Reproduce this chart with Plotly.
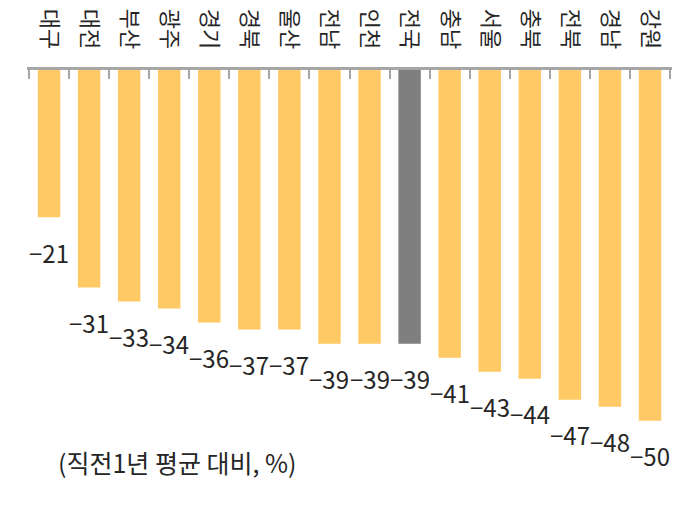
import plotly.graph_objects as go

# 지역별 변화율 (직전1년 평균 대비, %)
regions = ["대구", "대전", "부산", "광주", "경기", "경북", "울산", "전남",
           "인천", "전국", "충남", "서울", "충북", "전북", "경남", "강원"]
values = [-21, -31, -33, -34, -36, -37, -37, -39,
          -39, -39, -41, -43, -44, -47, -48, -50]
highlight = "전국"

bar_colors = ["#7F7F7F" if r == highlight else "#FFC966" for r in regions]

fig = go.Figure(go.Bar(
    x=regions,
    y=values,
    marker=dict(color=bar_colors, line=dict(width=0)),
    width=0.56,
    hoverinfo="x+y",
))

annotations = []
for r, v in zip(regions, values):
    annotations.append(dict(
        x=r, y=v, xref="x", yref="y",
        text="\u2212" + str(abs(v)),
        showarrow=False, yshift=-35,
        font=dict(size=24, color="#262626"),
    ))
annotations.append(dict(
    x=0.045, y=0.099, xref="paper", yref="paper",
    xanchor="left", yanchor="middle",
    text="(직전1년 평균 대비, %)",
    showarrow=False,
    font=dict(size=25, color="#262626"),
))

# page body has an 8px margin, so the figure is a bit smaller than the window
fig.update_layout(
    width=674, height=500,
    margin=dict(l=19, r=10, t=62, b=3),
    paper_bgcolor="white", plot_bgcolor="white",
    font=dict(family="Noto Sans CJK KR", color="#262626"),
    showlegend=False,
    annotations=annotations,
    xaxis=dict(
        side="top", type="category", automargin=False,
        showline=True, linecolor="#A6A6A6", linewidth=3,
        ticks="inside", tickson="boundaries", ticklen=9,
        tickcolor="#A6A6A6", tickwidth=2,
        tickangle=90, tickfont=dict(size=22, color="#262626"),
        ticklabelstandoff=10,
        showgrid=False, zeroline=False,
    ),
    yaxis=dict(range=[-62, 0], visible=False, showgrid=False, zeroline=False),
)

fig.write_html("out.html")
